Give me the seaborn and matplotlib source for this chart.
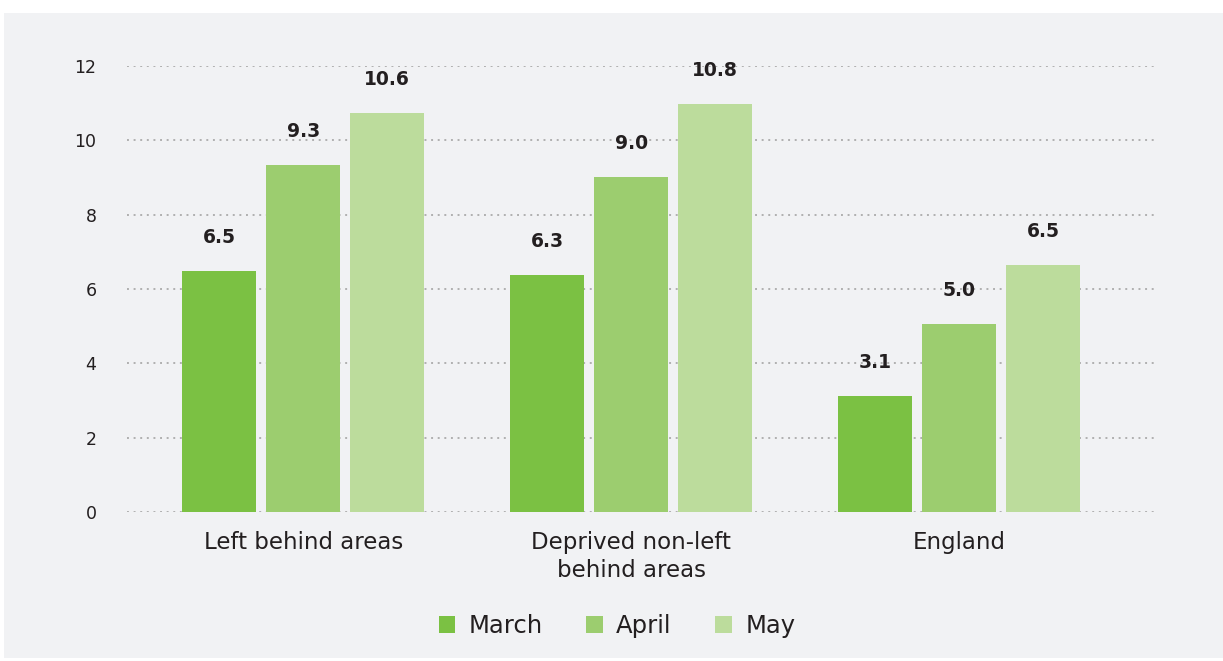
import numpy as np
import pandas as pd
import matplotlib
matplotlib.use("Agg")
import matplotlib.pyplot as plt
import seaborn as sns
from matplotlib.patches import Rectangle

categories = ["Left behind areas", "Deprived non-left\nbehind areas", "England"]
months = ["March", "April", "May"]
march = [6.48, 6.38, 3.12]
april = [9.33, 9.01, 5.06]
may = [10.73, 10.98, 6.65]
march_labels = ["6.5", "6.3", "3.1"]
april_labels = ["9.3", "9.0", "5.0"]
may_labels = ["10.6", "10.8", "6.5"]
colors = ["#7bc143", "#9ccd6f", "#bcdc9c"]
yticks = [0, 2, 4, 6, 8, 10, 12]

rows = []
for m, vals in zip(months, [march, april, may]):
    for c, v in zip(categories, vals):
        rows.append({"category": c, "month": m, "value": v})
df = pd.DataFrame(rows)

sns.set_style("white")
plt.rcParams["font.family"] = ["DejaVu Sans"]
text_color = "#231f20"

fig = plt.figure(figsize=(12.23, 6.61), dpi=100)
fig.patch.set_facecolor("white")
fig.patches.append(Rectangle((4 / 1223, 3 / 661), 1 - 4 / 1223, 1 - 16 / 661,
                             transform=fig.transFigure, facecolor="#f1f2f4",
                             edgecolor="none", zorder=-10))

ax = fig.add_axes([127 / 1223, 1 - 512 / 661, (1158 - 127) / 1223, (512 - 66) / 661])
ax.set_facecolor("none")

sns.barplot(data=df, x="category", y="value", hue="month", order=categories,
            hue_order=months, palette=colors, width=0.768, gap=0.119,
            saturation=1, ax=ax, errorbar=None, legend=True, linewidth=0,
            edgecolor="none")

ax.set_ylim(0, 12)
ax.set_xlim(-0.537, 2.606)
ax.set_yticks(yticks)
ax.set_yticklabels([str(t) for t in yticks])
for y in yticks:
    ax.axhline(y, color="#b0b0b0", linestyle=(0, (1, 2.4)), linewidth=1.4, zorder=0)
for s in ax.spines.values():
    s.set_visible(False)
ax.tick_params(axis="y", length=0, pad=22, labelsize=12.5, labelcolor=text_color)
ax.tick_params(axis="x", length=0, pad=14, labelsize=16.5, labelcolor=text_color)
for lbl in ax.get_xticklabels():
    lbl.set_linespacing(1.25)
ax.set_xlabel("")
ax.set_ylabel("")

all_labels = [march_labels, april_labels, may_labels]
for container, labs in zip(ax.containers, all_labels):
    for bar, lab in zip(container, labs):
        ax.annotate(lab, (bar.get_x() + bar.get_width() / 2, bar.get_height()),
                    xytext=(0, 24), textcoords="offset points", ha="center",
                    va="center", fontsize=13.5, fontweight="bold",
                    color=text_color, annotation_clip=False)

ax.get_legend().remove()
handles = [Rectangle((0, 0), 1, 1, facecolor=c, edgecolor="none") for c in colors]
leg = fig.legend(handles, months, loc="center", bbox_to_anchor=(617 / 1223, 1 - 626 / 661),
                 ncol=3, frameon=False, fontsize=17.5, handlelength=0.68, handleheight=0.68,
                 handletextpad=0.55, columnspacing=1.8, labelcolor=text_color)

fig.savefig("out.png", dpi=100, facecolor=fig.get_facecolor())
